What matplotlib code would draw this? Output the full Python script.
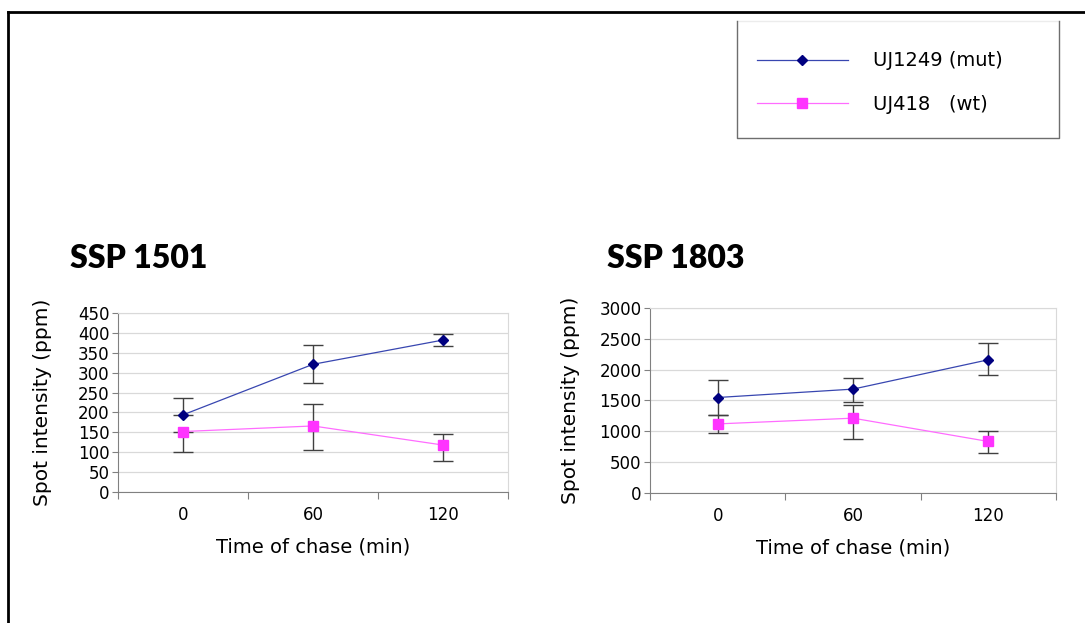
import matplotlib.pyplot as plt
from matplotlib.lines import Line2D

# -----------------------------
# Data
# -----------------------------
time_labels = ["0", "60", "120"]

# SSP 1501
mut_1501 = [194, 321, 382]
mut_1501_lo = [0, 46, 14]
mut_1501_hi = [42, 49, 14]
wt_1501 = [152, 166, 118]
wt_1501_lo = [51, 60, 39]
wt_1501_hi = [0, 55, 29]

# SSP 1803
mut_1803 = [1548, 1684, 2160]
mut_1803_lo = [281, 211, 246]
mut_1803_hi = [276, 179, 272]
wt_1803 = [1120, 1213, 835]
wt_1803_lo = [150, 341, 186]
wt_1803_hi = [147, 221, 165]

MUT_LINE = "#3846b0"
MUT_MARK = "#000080"
WT_LINE = "#ff6cff"
WT_MARK = "#ff33ff"
ERR = "#404040"

plt.rcParams["font.family"] = "DejaVu Sans"

fig = plt.figure(figsize=(10.85, 6.23), dpi=100)


def panel(rect, mut, mut_lo, mut_hi, wt, wt_lo, wt_hi, ymax, ystep, ypad):
    ax = fig.add_axes(rect)
    x = list(range(len(time_labels)))
    ax.errorbar(x, mut, yerr=[mut_lo, mut_hi], fmt="none", ecolor=ERR,
                elinewidth=1, capsize=7, capthick=1, zorder=3)
    ax.errorbar(x, wt, yerr=[wt_lo, wt_hi], fmt="none", ecolor=ERR,
                elinewidth=1, capsize=7, capthick=1, zorder=3)
    ax.plot(x, mut, color=MUT_LINE, lw=0.9, marker="D", ms=5.5,
            mfc=MUT_MARK, mec=MUT_MARK, zorder=4)
    ax.plot(x, wt, color=WT_LINE, lw=0.9, marker="s", ms=7,
            mfc=WT_MARK, mec=WT_MARK, zorder=4)

    ax.set_xlim(-0.5, len(x) - 0.5)
    ax.set_ylim(0, ymax)
    ax.set_yticks(range(0, ymax + 1, ystep))
    ax.yaxis.grid(True, color="#d9d9d9", lw=0.9)
    ax.set_axisbelow(True)

    # category axis: ticks between categories, labels at centres
    ax.set_xticks([-0.5, 0.5, 1.5, 2.5])
    ax.set_xticklabels([])
    ax.set_xticks(x, minor=True)
    ax.set_xticklabels(time_labels, minor=True, fontsize=12)
    ax.tick_params(axis="x", which="minor", length=0, pad=10)
    ax.tick_params(axis="x", which="major", length=5, color="#808080")
    ax.tick_params(axis="y", length=4, color="#808080", labelsize=12, pad=2)

    for s in ["left", "bottom"]:
        ax.spines[s].set_color("#808080")
    for s in ["top", "right"]:
        ax.spines[s].set_color("#d9d9d9")

    ax.set_ylabel("Spot intensity (ppm)", fontsize=14.5, labelpad=ypad)
    ax.set_xlabel("Time of chase (min)", fontsize=14, labelpad=10)
    return ax


panel([0.1088, 0.2103, 0.3594, 0.2873], mut_1501, mut_1501_lo, mut_1501_hi,
      wt_1501, wt_1501_lo, wt_1501_hi, 450, 50, 19)
panel([0.5991, 0.2087, 0.3742, 0.2970], mut_1803, mut_1803_lo, mut_1803_hi,
      wt_1803, wt_1803_lo, wt_1803_hi, 3000, 500, 14)

fig.text(70 / 1085, 1 - 259 / 623, "SSP 1501", fontsize=23, fontweight="heavy",
         family="Lato", va="center", ha="left")
fig.text(607 / 1085, 1 - 259 / 623, "SSP 1803", fontsize=23, fontweight="heavy",
         family="Lato", va="center", ha="left")

# legend box (top edge barely visible in the original)
bx0, bx1 = 737 / 1085, 1059 / 1085
by0, by1 = 1 - 138 / 623, 1 - 21 / 623
fig.add_artist(Line2D([bx0, bx1], [by1, by1], transform=fig.transFigure,
                      color="#ececec", lw=1))
fig.add_artist(Line2D([bx0, bx0, bx1, bx1], [by1, by0, by0, by1],
                      transform=fig.transFigure, color="#6e6e6e", lw=1))
handles = [
    Line2D([], [], color=MUT_LINE, lw=0.9, marker="D", ms=5.5,
           mfc=MUT_MARK, mec=MUT_MARK),
    Line2D([], [], color=WT_LINE, lw=0.9, marker="s", ms=7,
           mfc=WT_MARK, mec=WT_MARK),
]
fig.legend(handles, ["UJ1249 (mut)", "UJ418   (wt)"], loc="upper left",
           bbox_to_anchor=(739 / 1085, 1 - 34 / 623), frameon=False,
           fontsize=14, handlelength=4.7, handletextpad=1.3, labelspacing=1.25)

# outer frame
fig.add_artist(Line2D([8 / 1085, 1], [1 - 12 / 623, 1 - 12 / 623],
                      transform=fig.transFigure, color="black", lw=2))
fig.add_artist(Line2D([8 / 1085, 8 / 1085], [0, 1 - 12 / 623],
                      transform=fig.transFigure, color="black", lw=2))

plt.savefig("out.png", dpi=100)
